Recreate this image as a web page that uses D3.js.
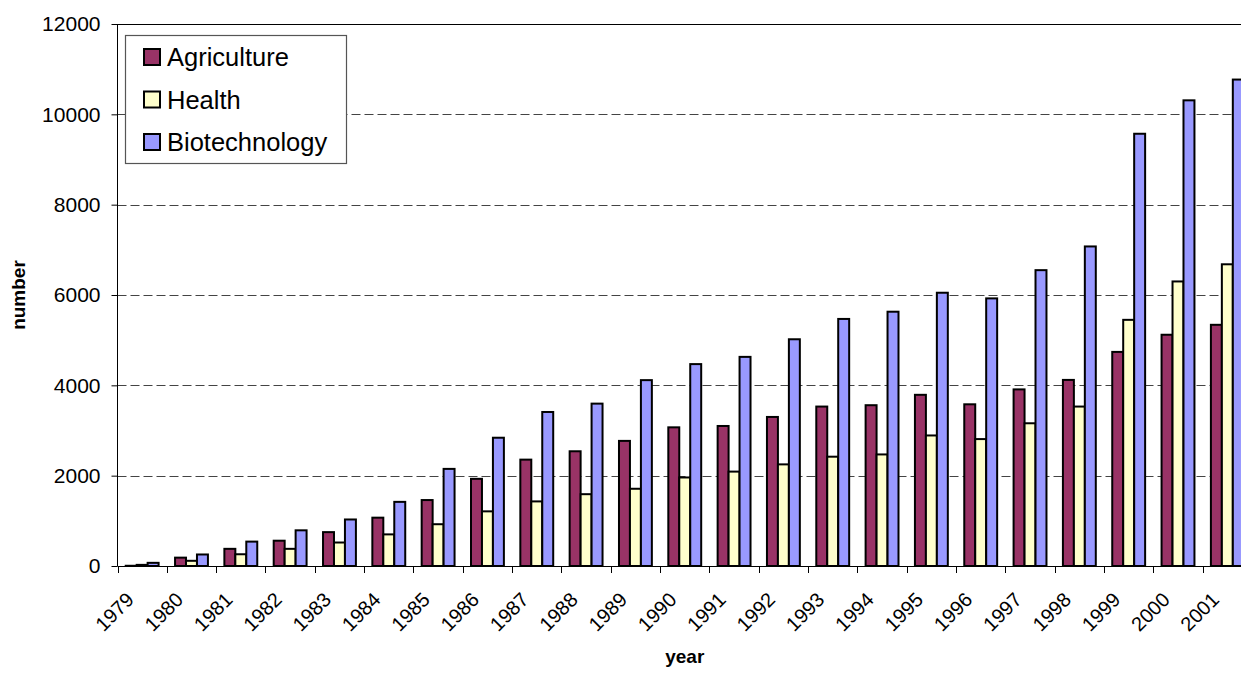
<!DOCTYPE html>
<html>
<head>
<meta charset="utf-8">
<script src="https://cdn.jsdelivr.net/npm/d3@7"></script>
<style>
  body { margin: 0; background: #fff; }
  svg { display: block; font-family: "Liberation Sans", Arial, sans-serif; }
</style>
</head>
<body>
<div id="chart"></div>
<script>
(function () {
  /* ----------------------- Data ----------------------- */
  const years = ["1979", "1980", "1981", "1982", "1983", "1984", "1985", "1986",
    "1987", "1988", "1989", "1990", "1991", "1992", "1993", "1994", "1995",
    "1996", "1997", "1998", "1999", "2000", "2001"];
  const seriesNames = ["Agriculture", "Health", "Biotechnology"];
  const agriculture = [5, 185, 380, 560, 750, 1070, 1460, 1930, 2355, 2540, 2770,
    3070, 3100, 3300, 3530, 3560, 3790, 3580, 3910, 4120, 4740, 5120, 5340];
  const health = [25, 115, 260, 380, 520, 700, 925, 1210, 1430, 1590, 1710,
    1960, 2090, 2250, 2420, 2470, 2890, 2810, 3160, 3530, 5450, 6300, 6680];
  const biotechnology = [70, 255, 540, 790, 1030, 1420, 2150, 2840, 3410, 3595,
    4115, 4470, 4630, 5020, 5470, 5630, 6050, 5925, 6550, 7075, 9570, 10310, 10770];
  const yTicks = [0, 2000, 4000, 6000, 8000, 10000, 12000];
  const colors = ["#993366", "#FFFFCC", "#9999FF"];

  const values = [agriculture, health, biotechnology];
  const data = years.map((y, i) => ({
    year: y,
    items: seriesNames.map((s, j) => ({ name: s, value: values[j][i] }))
  }));

  /* ----------------------- Dimensions ----------------------- */
  const W = 1241, H = 673;
  const left = 117.5, right = 1252, top = 24, bottom = 566;

  const svg = d3.select("#chart").append("svg")
    .attr("width", W).attr("height", H);

  /* ----------------------- Scales ----------------------- */
  const x0 = d3.scaleBand().domain(years).range([left, right]).padding(0);
  const x1 = d3.scaleBand().domain(seriesNames).range([0, x0.bandwidth()])
    .paddingInner(0).paddingOuter(0.75);
  const y = d3.scaleLinear().domain([0, 12000]).range([bottom, top]);
  const color = d3.scaleOrdinal().domain(seriesNames).range(colors);

  // Gridlines (dashed), top one solid
  svg.append("g")
    .selectAll("line")
    .data(yTicks.filter(d => d > 0))
    .enter().append("line")
    .attr("x1", left).attr("x2", right)
    .attr("y1", d => Math.round(y(d)) + 0.5).attr("y2", d => Math.round(y(d)) + 0.5)
    .attr("stroke", d => d === 12000 ? "#000" : "#444")
    .attr("stroke-width", 1)
    .attr("stroke-dasharray", d => d === 12000 ? null : "9,4");

  // Y axis
  const yAxis = svg.append("g")
    .attr("transform", `translate(${left},0)`)
    .call(d3.axisLeft(y).tickValues(yTicks).tickSize(6).tickPadding(11)
      .tickFormat(d3.format("d")));
  yAxis.select(".domain").attr("stroke", "#000").attr("d", `M0,${top}V${bottom}`);
  yAxis.selectAll(".tick line").attr("stroke", "#000");
  yAxis.selectAll(".tick text")
    .attr("font-size", 21).attr("font-family", "Liberation Sans, Arial, sans-serif")
    .attr("fill", "#000");

  // Bars
  const groups = svg.selectAll(".year-group")
    .data(data)
    .enter().append("g")
    .attr("class", "year-group")
    .attr("transform", d => `translate(${x0(d.year)},0)`);

  groups.selectAll("rect")
    .data(d => d.items)
    .enter().append("rect")
    .attr("x", d => x1(d.name))
    .attr("y", d => y(d.value))
    .attr("width", x1.bandwidth())
    .attr("height", d => y(0) - y(d.value))
    .attr("fill", d => color(d.name))
    .attr("stroke", "#000")
    .attr("stroke-width", 2);

  // X axis line and ticks at category boundaries
  const xAxis = svg.append("g");
  xAxis.append("line")
    .attr("x1", left).attr("x2", right)
    .attr("y1", bottom + 0.5).attr("y2", bottom + 0.5)
    .attr("stroke", "#000");
  xAxis.selectAll(".xtick")
    .data(years)
    .enter().append("line")
    .attr("class", "xtick")
    .attr("x1", d => Math.round(x0(d)) + 0.5).attr("x2", d => Math.round(x0(d)) + 0.5)
    .attr("y1", bottom).attr("y2", bottom + 7)
    .attr("stroke", "#000");
  xAxis.selectAll(".xlabel")
    .data(years)
    .enter().append("text")
    .attr("class", "xlabel")
    .attr("transform", d => `translate(${x0(d) + x0.bandwidth() / 2 - 7},${bottom + 35}) rotate(-45)`)
    .attr("text-anchor", "end")
    .attr("font-size", 20)
    .attr("fill", "#000")
    .text(d => d);

  // Axis titles
  svg.append("text")
    .attr("transform", `translate(25,${(top + bottom) / 2}) rotate(-90)`)
    .attr("text-anchor", "middle")
    .attr("font-size", 19)
    .attr("font-weight", "bold")
    .text("number");

  svg.append("text")
    .attr("x", (left + right) / 2)
    .attr("y", 663)
    .attr("text-anchor", "middle")
    .attr("font-size", 19)
    .attr("font-weight", "bold")
    .text("year");

  /* ----------------------- Legend ----------------------- */
  const legend = svg.append("g");
  legend.append("rect")
    .attr("x", 125.5).attr("y", 35.5)
    .attr("width", 221).attr("height", 128)
    .attr("fill", "#fff")
    .attr("stroke", "#555")
    .attr("stroke-width", 1.2);

  const rows = legend.selectAll(".legend-row")
    .data(seriesNames)
    .enter().append("g")
    .attr("class", "legend-row")
    .attr("transform", (d, i) => `translate(0,${57 + i * 42.5})`);

  rows.append("rect")
    .attr("x", 144).attr("y", -8)
    .attr("width", 16).attr("height", 16)
    .attr("fill", d => color(d))
    .attr("stroke", "#000")
    .attr("stroke-width", 2);

  rows.append("text")
    .attr("x", 167)
    .attr("y", 0)
    .attr("dy", "0.36em")
    .attr("font-size", 25.5)
    .attr("fill", "#000")
    .text(d => d);
})();
</script>
</body>
</html>
